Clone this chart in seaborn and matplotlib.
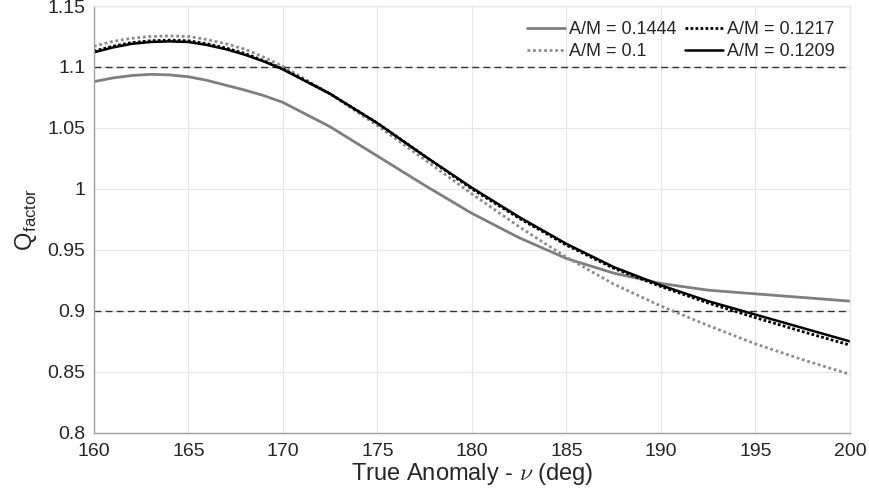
import matplotlib
matplotlib.use("Agg")
import matplotlib.pyplot as plt
import seaborn as sns
import pandas as pd

nu = [160, 161, 162, 163, 164, 165, 166, 167, 168, 169, 170,
      172.5, 175, 177.5, 180, 182.5, 185, 187.5, 190, 192.5, 195, 197.5, 200]
q_1444 = [1.088, 1.091, 1.093, 1.094, 1.0935, 1.092, 1.089, 1.085, 1.081, 1.0765, 1.071,
          1.051, 1.027, 1.003, 0.980, 0.960, 0.943, 0.931, 0.9225, 0.917, 0.914, 0.911, 0.908]
q_1 = [1.117, 1.121, 1.1235, 1.125, 1.1255, 1.125, 1.1225, 1.119, 1.1145, 1.108, 1.1005,
       1.078, 1.052, 1.024, 0.996, 0.969, 0.944, 0.922, 0.904, 0.888, 0.873, 0.860, 0.848]
q_1217 = [1.113, 1.117, 1.120, 1.1215, 1.122, 1.1215, 1.119, 1.1155, 1.111, 1.105, 1.0985,
          1.078, 1.054, 1.027, 1.000, 0.976, 0.954, 0.935, 0.920, 0.9065, 0.8945, 0.883, 0.872]
q_1209 = [1.112, 1.116, 1.119, 1.1205, 1.121, 1.1205, 1.118, 1.1145, 1.110, 1.1045, 1.098,
          1.078, 1.054, 1.027, 1.001, 0.977, 0.955, 0.936, 0.921, 0.908, 0.897, 0.886, 0.875]
labels = ["A/M = 0.1444", "A/M = 0.1", "A/M = 0.1217", "A/M = 0.1209"]
limits = [1.1, 0.9]
xticks = [160, 165, 170, 175, 180, 185, 190, 195, 200]
yticks = [0.8, 0.85, 0.9, 0.95, 1.0, 1.05, 1.1, 1.15]
yticklabels = ["0.8", "0.85", "0.9", "0.95", "1", "1.05", "1.1", "1.15"]

sns.set_theme(style="whitegrid")
plt.rcParams['font.family'] = ['Liberation Sans', 'DejaVu Sans']
plt.rcParams['mathtext.fontset'] = 'cm'

fig = plt.figure(figsize=(8.69, 5.01), dpi=100)
ax = fig.add_axes([0.108, 0.136, 0.870, 0.852])

styles = [
    dict(color="#7f7f7f", linestyle="-", linewidth=2.0),
    dict(color="#8c8c8c", linestyle=(0, (1, 1)), linewidth=2.0),
    dict(color="#000000", linestyle=(0, (1, 0.8)), linewidth=2.0),
    dict(color="#000000", linestyle="-", linewidth=1.8),
]
series = [q_1444, q_1, q_1217, q_1209]
for lab, ys, st in zip(labels, series, styles):
    df = pd.DataFrame({"nu": nu, "q": ys})
    sns.lineplot(data=df, x="nu", y="q", ax=ax, label=lab, **st)

for l in limits:
    ax.axhline(l, color="#333333", linestyle=(0, (5, 3)), linewidth=1.0, zorder=1)

ax.set_xlim(160, 200)
ax.set_ylim(0.8, 1.15)
ax.set_xticks(xticks)
ax.set_yticks(yticks)
ax.set_yticklabels(yticklabels)
ax.tick_params(axis="both", labelsize=14, colors="#262626", direction="in", length=4, color="#888888")
ax.tick_params(axis="x", pad=7)
ax.tick_params(axis="y", pad=6)
ax.grid(True, color="#e6e6e6", linewidth=0.8)
for s in ax.spines.values():
    s.set_color("#a0a0a0")
    s.set_linewidth(1.0)
ax.spines["top"].set_color("#e6e6e6")
ax.spines["right"].set_color("#e6e6e6")
ax.set_xlabel(r"True Anomaly - $\nu$ (deg)", fontsize=17, color="#262626", labelpad=1)
ax.set_ylabel(r"Q$_{\mathregular{factor}}$", fontsize=17, color="#262626", labelpad=6)

leg = ax.legend(loc="upper right", ncol=2, frameon=False, fontsize=13,
                handlelength=2.1, columnspacing=0.45, handletextpad=0.22,
                labelspacing=0.25, borderaxespad=0.45)

fig.savefig("out.png", dpi=100)
